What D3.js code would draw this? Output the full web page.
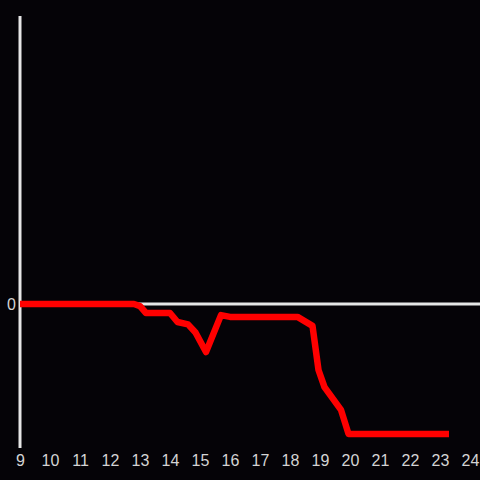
<!DOCTYPE html>
<html>
<head>
<meta charset="utf-8">
<script src="https://cdn.jsdelivr.net/npm/d3@7"></script>
<style>
  html, body { margin: 0; padding: 0; background: #050307; }
  svg { display: block; }
</style>
</head>
<body>
<div id="chart"></div>
<script>
// hour of day and value
const hours = [9.0, 12.8, 13.0, 13.2, 14.0, 14.25, 14.6, 14.85, 15.2, 15.7, 16.0, 18.25, 18.75, 18.95, 19.15, 19.7, 19.95, 23.3];
const values = [0, 0, -0.07, -0.3, -0.3, -0.6, -0.68, -0.95, -1.6, -0.37, -0.43, -0.43, -0.73, -2.2, -2.77, -3.53, -4.33, -4.33];
const xTicks = [9, 10, 11, 12, 13, 14, 15, 16, 17, 18, 19, 20, 21, 22, 23, 24];
const yTicks = [0];

const w = 480,
  h = 480;

const x = d3.scaleLinear().domain([9, 24]).range([20, 470]);
const y = d3.scaleLinear().domain([-4.8, 9.6]).range([448, 16]);

const svg = d3
  .select('#chart')
  .append('svg')
  .attr('width', w)
  .attr('height', h)
  .style('font-family', '"Liberation Sans", Arial, sans-serif');

svg.append('rect').attr('width', w).attr('height', h).attr('fill', '#050307');

// zero line
svg
  .append('line')
  .attr('x1', x(9))
  .attr('x2', w)
  .attr('y1', y(0))
  .attr('y2', y(0))
  .attr('stroke', '#e6e6e6')
  .attr('stroke-width', 3);

// y axis line
svg
  .append('line')
  .attr('x1', x(9))
  .attr('x2', x(9))
  .attr('y1', y.range()[1])
  .attr('y2', y.range()[0])
  .attr('stroke', '#e6e6e6')
  .attr('stroke-width', 3);

// x labels
const xAxis = d3.axisBottom(x).tickValues(xTicks).tickSize(0).tickPadding(0).tickFormat(d3.format('d'));
const gx = svg.append('g').attr('transform', 'translate(0,455)').call(xAxis);
gx.select('.domain').remove();
gx.selectAll('text')
  .attr('fill', '#d4d4d4')
  .attr('font-size', 16)
  .attr('font-family', '"Liberation Sans", Arial, sans-serif');

// y labels
const yAxis = d3.axisLeft(y).tickValues(yTicks).tickSize(0).tickPadding(0).tickFormat(d3.format('d'));
const gy = svg.append('g').attr('transform', 'translate(16,0)').call(yAxis);
gy.select('.domain').remove();
gy.selectAll('text')
  .attr('fill', '#d4d4d4')
  .attr('font-size', 16)
  .attr('font-family', '"Liberation Sans", Arial, sans-serif');

const data = hours.map((t, i) => ({ t: t, v: values[i] }));

const line = d3
  .line()
  .x((d) => x(d.t))
  .y((d) => y(d.v));

svg
  .append('path')
  .datum(data)
  .attr('d', line)
  .attr('fill', 'none')
  .attr('stroke', '#ff0000')
  .attr('stroke-width', 6.5)
  .attr('stroke-linejoin', 'round');
</script>
</body>
</html>
